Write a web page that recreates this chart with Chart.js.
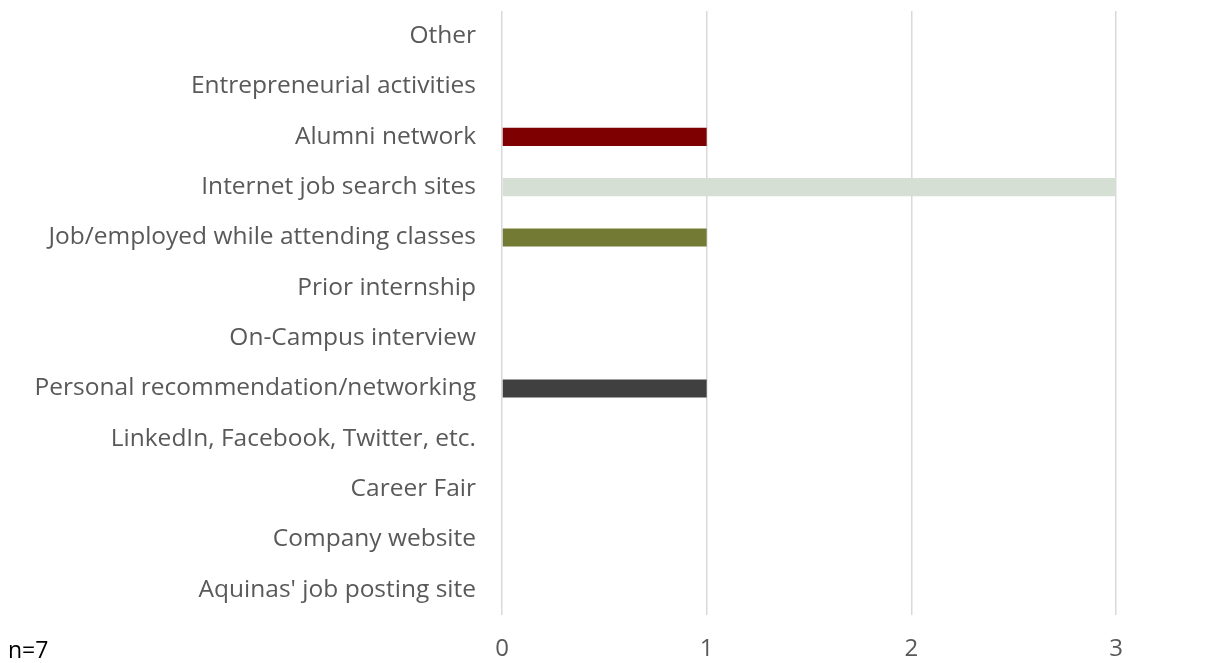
<!DOCTYPE html>
<html>
<head>
<meta charset="utf-8">
<script src="https://cdn.jsdelivr.net/npm/chart.js@4/dist/chart.umd.min.js"></script>
<style>
  html, body { margin: 0; padding: 0; background: #fff; }
  #wrap { width: 1205px; height: 663px; position: relative; }
</style>
</head>
<body>
<div id="wrap"><canvas id="chart-sources"></canvas></div>
<script>
var categories = [
    "Other",
    "Entrepreneurial activities",
    "Alumni network",
    "Internet job search sites",
    "Job/employed while attending classes",
    "Prior internship",
    "On-Campus interview",
    "Personal recommendation/networking",
    "LinkedIn, Facebook, Twitter, etc.",
    "Career Fair",
    "Company website",
    "Aquinas' job posting site",
];
var counts = [0, 0, 1, 3, 1, 0, 0, 1, 0, 0, 0, 0];
var barColors = [
    "#7f7f7f",
    "#7f7f7f",
    "#7f0000",
    "#d5dfd3",
    "#727a34",
    "#7f7f7f",
    "#7f7f7f",
    "#404040",
    "#7f7f7f",
    "#7f7f7f",
    "#7f7f7f",
    "#7f7f7f",
];
var xTicks = [0, 1, 2, 3];
var note = "n=7";

var noteLabel = {
    id: 'noteLabel',
    afterDraw: function(chart) {
        var ctx = chart.ctx;
        ctx.save();
        ctx.font = '23px "Open Sans"';
        ctx.fillStyle = '#000';
        ctx.textBaseline = 'middle';
        ctx.textAlign = 'left';
        ctx.fillText(note, 8, 651);
        ctx.restore();
    }
};

var chartS = document.getElementById("chart-sources");
var chartSources = new Chart(chartS, {
    type: 'bar',
    plugins: [noteLabel],
    data: {
        labels: categories,
        datasets: [{
            data: counts,
            backgroundColor: barColors,
            borderWidth: 0,
            categoryPercentage: 1,
            barPercentage: 0.36,
        }]
    },
    options: {
        indexAxis: 'y',
        responsive: true,
        maintainAspectRatio: false,
        animation: false,
        layout: {
            padding: { top: 11, right: 89, left: 0, bottom: 0 }
        },
        plugins: {
            legend: { display: false },
            tooltip: { enabled: false },
        },
        scales: {
            x: {
                min: 0,
                max: 3,
                afterBuildTicks: function(scale) {
                    scale.ticks = xTicks.map(function(v) { return { value: v }; });
                },
                afterFit: function(scale) {
                    scale.height = 48;
                    scale.paddingLeft = 0;
                    scale.paddingRight = 0;
                },
                grid: { color: '#d9d9d9', lineWidth: 1.5, drawTicks: false },
                border: { display: false },
                ticks: {
                    padding: 20,
                    color: '#595959',
                    font: { family: '"Open Sans"', size: 24 },
                }
            },
            y: {
                afterFit: function(scale) {
                    scale.width = 502;
                    scale.paddingTop = 0;
                    scale.paddingBottom = 0;
                },
                grid: { display: false, drawTicks: false },
                border: { display: false },
                ticks: {
                    padding: 26,
                    color: '#595959',
                    font: { family: '"Open Sans"', size: 24.5 },
                }
            }
        }
    }
});
</script>
</body>
</html>
